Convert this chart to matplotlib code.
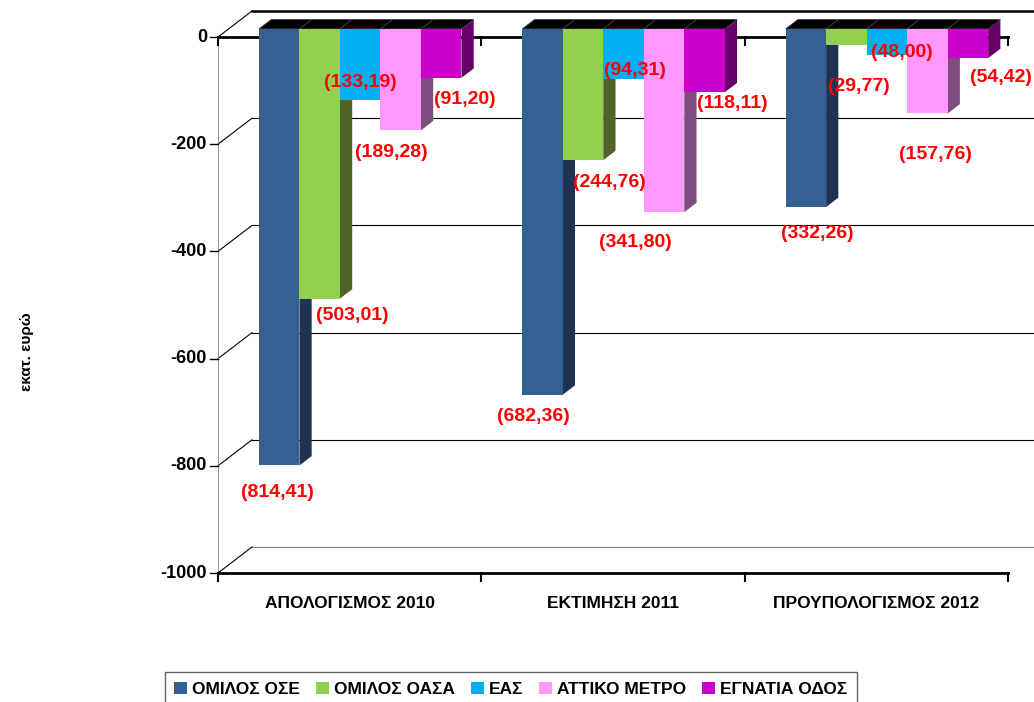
#!/usr/bin/env python3
"""Pseudo-3D clustered column chart (Excel style) of deficits, million euros."""
import matplotlib
matplotlib.use("Agg")
import matplotlib.pyplot as plt
from matplotlib.patches import Polygon, Rectangle

categories = ["ΑΠΟΛΟΓΙΣΜΟΣ 2010", "ΕΚΤΙΜΗΣΗ 2011", "ΠΡΟΥΠΟΛΟΓΙΣΜΟΣ 2012"]
series = ["ΟΜΙΛΟΣ ΟΣΕ", "ΟΜΙΛΟΣ ΟΑΣΑ", "ΕΑΣ", "ΑΤΤΙΚΟ ΜΕΤΡΟ", "ΕΓΝΑΤΙΑ ΟΔΟΣ"]
ose = [-814.41, -682.36, -332.26]
oasa = [-503.01, -244.76, -29.77]
eas = [-133.19, -94.31, -48.00]
attiko = [-189.28, -341.80, -157.76]
egnatia = [-91.20, -118.11, -54.42]
values = [ose, oasa, eas, attiko, egnatia]
yticks = [0, -200, -400, -600, -800, -1000]

# colours: front face / right side face
FRONT = ["#376092", "#92D050", "#00B0F0", "#FF99FF", "#CC00CC"]
SIDE = ["#1F3251", "#4F6228", "#006990", "#7F4C80", "#660066"]

# label offsets in pixels (dx, dy down) from the bottom centre of each bar
LABEL_OFF = [
    [(-2, 27), (-9, 22), (11, 26)],
    [(33, 17), (26, 22), (13, 42)],
    [(0, -18), (11, -9), (15, -2)],
    [(-9, 22), (-29, 30), (8, 41)],
    [(24, 22), (28, 11), (33, 19)],
]

W, H = 1034, 702
fig = plt.figure(figsize=(W / 100, H / 100), dpi=100)
ax = fig.add_axes([218 / W, (H - 573) / H, 790 / W, 536 / H])
ax.set_xlim(0, 3)
ax.set_ylim(-1000, 0)
ax.axis("off")

FONT = ["Liberation Sans", "DejaVu Sans"]
PXX = 3 / 790      # category units per pixel
PXY = 1000 / 536   # value units per pixel
DX, DY = 34 * PXX, 26 * PXY   # full depth of the floor
F0, F1 = 0.31, 0.67           # bars sit between these depth fractions
PT = 0.72                     # points per pixel

# back wall gridlines and left wall
for v in yticks:
    col = "#808080" if v == -1000 else "black"
    lw = 1.8 if v == 0 else 0.8
    ax.plot([DX, 3 + DX + 0.3], [v + DY, v + DY], color=col, lw=lw,
            clip_on=False, zorder=1)
    ax.plot([0, DX], [v, v + DY], color="black", lw=0.8, clip_on=False, zorder=1)
ax.plot([0, 0], [0, -1000], color="#808080", lw=1.2, zorder=1)

# front category axes at 0 and -1000
for base in (0, -1000):
    ax.plot([0, 3], [base, base], color="black", lw=2, zorder=2, clip_on=False)
    for i in range(4):
        ax.plot([i, i], [base, base - 8 * PXY], color="black", lw=1.5,
                zorder=2, clip_on=False)

# value ticks and labels
for v in yticks:
    ax.plot([-8 * PXX, 0], [v, v], color="black", lw=1, clip_on=False, zorder=2)
    ax.annotate(f"{v}", (0, v), xytext=(-11 * PT, 0), textcoords="offset points",
                ha="right", va="center", fontsize=13, fontweight="bold",
                family=FONT, annotation_clip=False)

# bars
bw = 1 / 6.5
z = 3
for g in range(len(categories)):
    for s in range(len(series)):
        v = values[s][g]
        x0 = g + (0.75 + s) * bw + F0 * DX
        x1 = x0 + bw
        top = F0 * DY
        bot = v + F0 * DY
        ddx, ddy = (F1 - F0) * DX, (F1 - F0) * DY
        ax.add_patch(Polygon([(x1, top), (x1 + ddx, top + ddy), (x1 + ddx, bot + ddy),
                              (x1, bot)], closed=True, fc=SIDE[s], ec="none",
                             zorder=z, clip_on=False))
        ax.add_patch(Polygon([(x0, top), (x1, top), (x1 + ddx, top + ddy),
                              (x0 + ddx, top + ddy)], closed=True, fc="black",
                             ec="#404040", lw=0.6, zorder=z + 0.1, clip_on=False))
        ax.add_patch(Rectangle((x0, bot), bw, top - bot, fc=FRONT[s], ec="none",
                               zorder=z + 0.2, clip_on=False))
        z += 1

# value labels
for s in range(len(series)):
    for g in range(len(categories)):
        v = values[s][g]
        xc = g + (0.75 + s + 0.5) * bw + F0 * DX
        dx, dy = LABEL_OFF[s][g]
        txt = "(" + f"{-v:.2f}".replace(".", ",") + ")"
        ax.annotate(txt, (xc, v + F0 * DY), xytext=(dx * PT, -dy * PT),
                    textcoords="offset points", ha="center", va="center",
                    color="#FF0000", fontsize=14, fontweight="bold",
                    family=FONT, zorder=100, annotation_clip=False)

# category labels
for g, c in enumerate(categories):
    ax.annotate(c, (g + 0.5, -1000), xytext=(0, -30 * PT), textcoords="offset points",
                ha="center", va="center", fontsize=12.5, fontweight="bold",
                family=FONT, annotation_clip=False)

fig.text(27 / W, 1 - 352 / H, "εκατ. ευρώ", rotation=90, ha="center", va="center",
         fontsize=11, fontweight="bold", family=FONT)

handles = [Rectangle((0, 0), 1, 1, fc=c, ec="none") for c in FRONT]
leg = fig.legend(handles, series, loc="upper center", bbox_to_anchor=(0.494, 1 - 672 / H),
                 ncol=5, frameon=True, fancybox=False, edgecolor="#404040",
                 handlelength=0.75, handleheight=0.75, handletextpad=0.3,
                 columnspacing=0.9, borderpad=0.55, borderaxespad=0,
                 prop={"family": FONT, "weight": "bold", "size": 12.5})
leg.get_frame().set_linewidth(1.0)

fig.savefig("out.png", dpi=100)
